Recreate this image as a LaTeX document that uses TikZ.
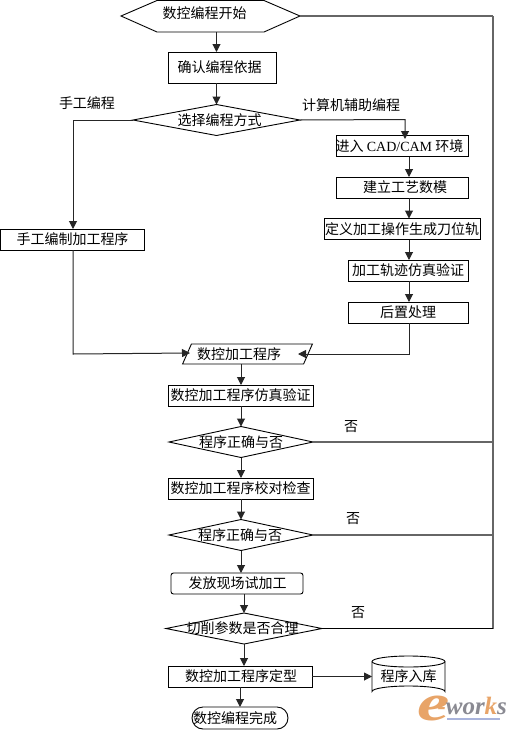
\documentclass[tikz,border=0pt]{standalone}
\usepackage{graphicx}
\usepackage{fontspec}
\setmainfont{Noto Sans CJK SC}
\newfontfamily\latinf{Liberation Serif}
\usetikzlibrary{shapes.geometric,shapes.misc,arrows.meta}
\newcommand\Zt[2][0]{\smash{\hbox to 0pt{\hss\kern#1pt\raisebox{-5pt}{#2}\kern-#1pt\hss}}}
\definecolor{lgray}{HTML}{666666}
\definecolor{wmorange}{HTML}{E8A468}
\definecolor{wmgray}{HTML}{8A8A92}
\definecolor{wmblue}{HTML}{A9B4DC}
\tikzset{
  basebox/.style={draw=black,line width=0.9pt,inner sep=0pt,outer sep=0pt,fill=white},
  rectbox/.style={basebox,rectangle,minimum width=#1,minimum height=21pt},
  decision/.style={basebox,diamond,aspect=5,minimum width=#1,minimum height=31pt},
  ghost/.style={rectangle,inner sep=0pt,outer sep=0pt},
  plain/.style={inner sep=0pt},
  arr/.style={draw=black!85,line width=1pt,-{Triangle[length=8pt,width=8pt]}},
  ln/.style={draw=black,line width=0.9pt},
  grayln/.style={draw=lgray,line width=1.2pt},
}
\begin{document}
\begin{tikzpicture}[x=1pt,y=-1pt,font=\fontsize{14}{15}\selectfont]
\useasboundingbox (0,0) rectangle (512,732);
\fill[white] (0,0) rectangle (512,732);
% helper columns
\coordinate (xa) at (216.5,0);
\coordinate (xb) at (409,0);
\coordinate (xc) at (241,0);
\coordinate (xr) at (493,0);
\coordinate (xl) at (73,0);
% start hexagon
\node[ghost,minimum width=179pt,minimum height=32pt] (start) at (210.5,16) {};
\draw[line width=0.9pt,fill=white] (121,16) -- (157,0.5) -- (264,0.5) -- (300,16) -- (264,32) -- (157,32) -- cycle;
\node[plain] (startt) at (204.5,13) {数控编程开始};
\node[rectbox=108pt,minimum height=31pt] (confirm) at (222,67.5) {\Zt[-2.5]{确认编程依据}};
\node[decision=167pt] (select) at (216.5,120) {\Zt[3]{选择编程方式}};
\node[rectbox=132pt] (cad) at (402,146) {\Zt[-2.5]{进入 {\latinf CAD/CAM} 环境}};
\node[rectbox=132pt] (model) at (402,187.5) {\Zt[3]{建立工艺数模}};
\node[rectbox=156pt] (define) at (402,229) {\Zt{定义加工操作生成刀位轨}};
\node[rectbox=120pt] (sim) at (408,270.5) {\Zt{加工轨迹仿真验证}};
\node[rectbox=120pt] (post) at (408,312.5) {\Zt{后置处理}};
\node[rectbox=144pt] (manual) at (72.5,239.5) {\Zt{手工编制加工程序}};
\node[basebox,trapezium,trapezium left angle=63,trapezium right angle=117,trapezium stretches=true,minimum width=131pt,minimum height=20pt] (prog) at (247.5,354) {\kern-8.5pt 数控加工程序\kern8.5pt};
\node[rectbox=145pt] (verify) at (240.5,395.5) {\Zt{数控加工程序仿真验证}};
\node[decision=144pt] (check1) at (241,442) {\Zt{程序正确与否}};
\node[rectbox=145pt] (proof) at (240.5,488.5) {\Zt{数控加工程序校对检查}};
\node[decision=144pt] (check2) at (241,535) {\Zt[-1]{程序正确与否}};
\node[rectbox=132pt,rounded corners=2.5pt] (send) at (237,583.5) {\Zt[0.5]{发放现场试加工}};
\node[decision=156pt] (cut) at (244,628.5) {\Zt[-1.5]{切削参数是否合理}};
\node[rectbox=144pt] (final) at (240,676.5) {\Zt[1]{数控加工程序定型}};
% store cylinder
\node[ghost,minimum width=73pt,minimum height=41pt] (store) at (408.5,676.5) {};
\draw[line width=0.9pt,fill=white] (372,661.5) arc[start angle=180,end angle=0,x radius=36.5pt,y radius=5.5pt]
  -- (445,691.5) arc[start angle=0,end angle=180,x radius=36.5pt,y radius=5.5pt] -- cycle;
\draw[line width=0.9pt] (372,661.5) arc[start angle=180,end angle=360,x radius=36.5pt,y radius=5.5pt];
\node[plain] (storet) at (408.5,676) {程序入库};
\node[basebox,rounded rectangle,minimum width=96pt,minimum height=22pt] (finish) at (240,718) {\Zt[-5]{数控编程完成}};
% free labels
\node[plain] (lm) at (87,103) {手工编程};
\node[plain] (lc) at (351,105) {计算机辅助编程};
\node[plain] (no1) at (351,427) {否};
\node[plain] (no2) at (353,519) {否};
\node[plain] (no3) at (358,613) {否};
% connectors
\draw[arr] (start.south -| xa) -- (confirm.north -| xa);
\draw[arr] (confirm.south -| xa) -- (select.north -| xa);
\coordinate (cadin) at (405,139);
\draw[arr] (select.east) -- (405,119.5) -- (cadin);
\draw[arr] (cad.south -| xb) -- (model.north -| xb);
\draw[arr] (model.south -| xb) -- (define.north -| xb);
\draw[arr] (define.south -| xb) -- (sim.north -| xb);
\draw[arr] (sim.south -| xb) -- (post.north -| xb);
\draw[arr] (select.west) -- (select.west -| xl) -- (manual.north -| xl);
\coordinate (progl) at (190,353);
\coordinate (progr) at (298,354);
\draw[arr] (manual.south -| xl) -- (73,354) -- (progl);
\draw[arr] (post.south -| xb) -- (409,354) -- (progr);
\draw[arr] (prog.south -| xc) -- (verify.north -| xc);
\draw[arr] (verify.south -| xc) -- (check1.north -| xc);
\draw[arr] (check1.south -| xc) -- (proof.north -| xc);
\draw[arr] (proof.south -| xc) -- (check2.north -| xc);
\draw[arr] (check2.south) -- (check2.south |- send.north);
\draw[arr] (send.south -| cut.north) -- (cut.north);
\draw[arr] (cut.south) -- (cut.south |- final.north);
\draw[arr] (final.south -| finish.north) -- (finish.north);
\draw[arr] (final.east) -- (store.west);
\draw[grayln] (start.east) -- (start.east -| xr);
\draw[grayln] (start.east -| xr) -- (cut.east -| xr);
\draw[ln] (cut.east) -- (cut.east -| xr);
\draw[grayln] (check1.east) -- (check1.east -| xr);
\draw[grayln] (check2.east) -- (check2.east -| xr);
% watermark
\node[plain,anchor=base west,text=wmgray] (wm) at (417,720.5) {\latinf\itshape\bfseries\textcolor{wmorange}{\scalebox{1.4}[1]{\fontsize{52}{52}\selectfont e}}\kern-12pt\raisebox{6.5pt}{\fontsize{25}{25}\selectfont\textcolor{wmorange}{-}wor\textcolor{wmorange}{k}s}};
\fill[wmblue] (447,717.5) rectangle (500,720);
\end{tikzpicture}
\end{document}
